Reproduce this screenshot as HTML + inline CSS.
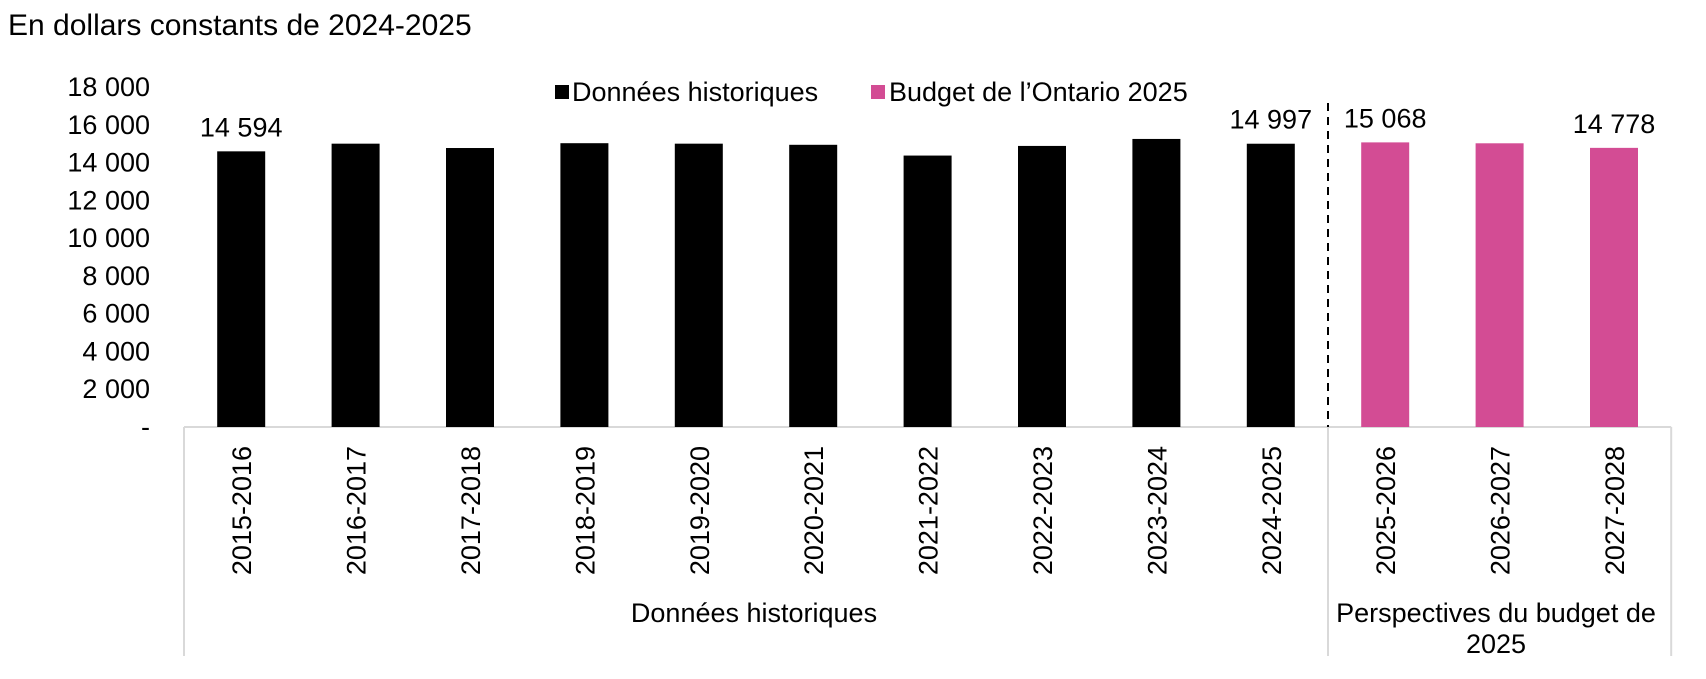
<!DOCTYPE html>
<html><head><meta charset="utf-8"><style>
body{margin:0;background:#fff;}
svg text{font-family:"Liberation Sans",sans-serif;fill:#000;}
</style></head><body>
<svg id="chart" width="1706" height="674" xmlns="http://www.w3.org/2000/svg">
<text x="8" y="35" font-size="30">En dollars constants de 2024-2025</text>
<g>
<rect x="555" y="85" width="14" height="14" fill="#000"/>
<text x="572" y="101" font-size="27">Données historiques</text>
<rect x="871" y="85" width="14" height="14" fill="#d34c94"/>
<text x="889" y="101" font-size="27">Budget de l’Ontario 2025</text>
</g>
<g id="yaxis"></g>
<g id="frame"></g>
<g id="bars"></g>
<g id="xlabels"></g>
<text x="754" y="622" font-size="27" text-anchor="middle">Données historiques</text>
<text x="1496" y="622" font-size="27" text-anchor="middle">Perspectives du budget de</text>
<text x="1496" y="653" font-size="27" text-anchor="middle">2025</text>
</svg>
<script>
const categories=["2015-2016","2016-2017","2017-2018","2018-2019","2019-2020","2020-2021","2021-2022","2022-2023","2023-2024","2024-2025","2025-2026","2026-2027","2027-2028"];
const values=[14594,15000,14770,15025,15000,14940,14370,14880,15250,14997,15068,15020,14778];
const isForecast=[false,false,false,false,false,false,false,false,false,false,true,true,true];
const shownLabels=["14 594","","","","","","","","","14 997","15 068","","14 778"];
const yTicks=[0,2000,4000,6000,8000,10000,12000,14000,16000,18000];
const yTickLabels=["-","2 000","4 000","6 000","8 000","10 000","12 000","14 000","16 000","18 000"];

const NS="http://www.w3.org/2000/svg";
const x0=184,band=114.4,barW=48,y0=427,yTop=87,yMax=18000;
function y(v){return y0-(v/yMax)*(y0-yTop);}
function xc(i){return x0+band*(i+0.5);}
function mk(tag,attrs,parent){const e=document.createElementNS(NS,tag);for(const k in attrs)e.setAttribute(k,attrs[k]);document.getElementById(parent).appendChild(e);return e;}

yTicks.forEach((t,i)=>{
  const e=mk('text',{x:150,y:y(t)+9,'font-size':27,'text-anchor':'end'},'yaxis');
  
  
  e.textContent=yTickLabels[i];
});

const split=x0+band*10, right=x0+band*categories.length;
[[x0,y0,right,y0],[x0,y0,x0,656],[split,y0,split,656],[right,y0,right,656]].forEach(l=>{
  const e=mk('line',{x1:l[0],y1:l[1],x2:l[2],y2:l[3],stroke:'#d9d9d9','stroke-width':2},'frame');
  
  
});
const d=mk('line',{x1:split,y1:103,x2:split,y2:y0,stroke:'#000','stroke-width':2,'stroke-dasharray':'8,6'},'frame');



categories.forEach((c,i)=>{
  const b=mk('rect',{x:xc(i)-barW/2,y:y(values[i]),width:barW,height:y0-y(values[i]),fill:isForecast[i]?'#d34c94':'#000'},'bars');
  
  
  if(shownLabels[i]){
    const t=mk('text',{x:xc(i),y:y(values[i])-15,'font-size':27,'text-anchor':'middle'},'bars');
    
    
    t.textContent=shownLabels[i];
  }
  const l=mk('text',{x:0,y:0,'font-size':27,'text-anchor':'end',transform:`translate(${xc(i)+10},446) rotate(-90)`},'xlabels');
  
  
  l.textContent=c;
});
</script>
</body></html>
